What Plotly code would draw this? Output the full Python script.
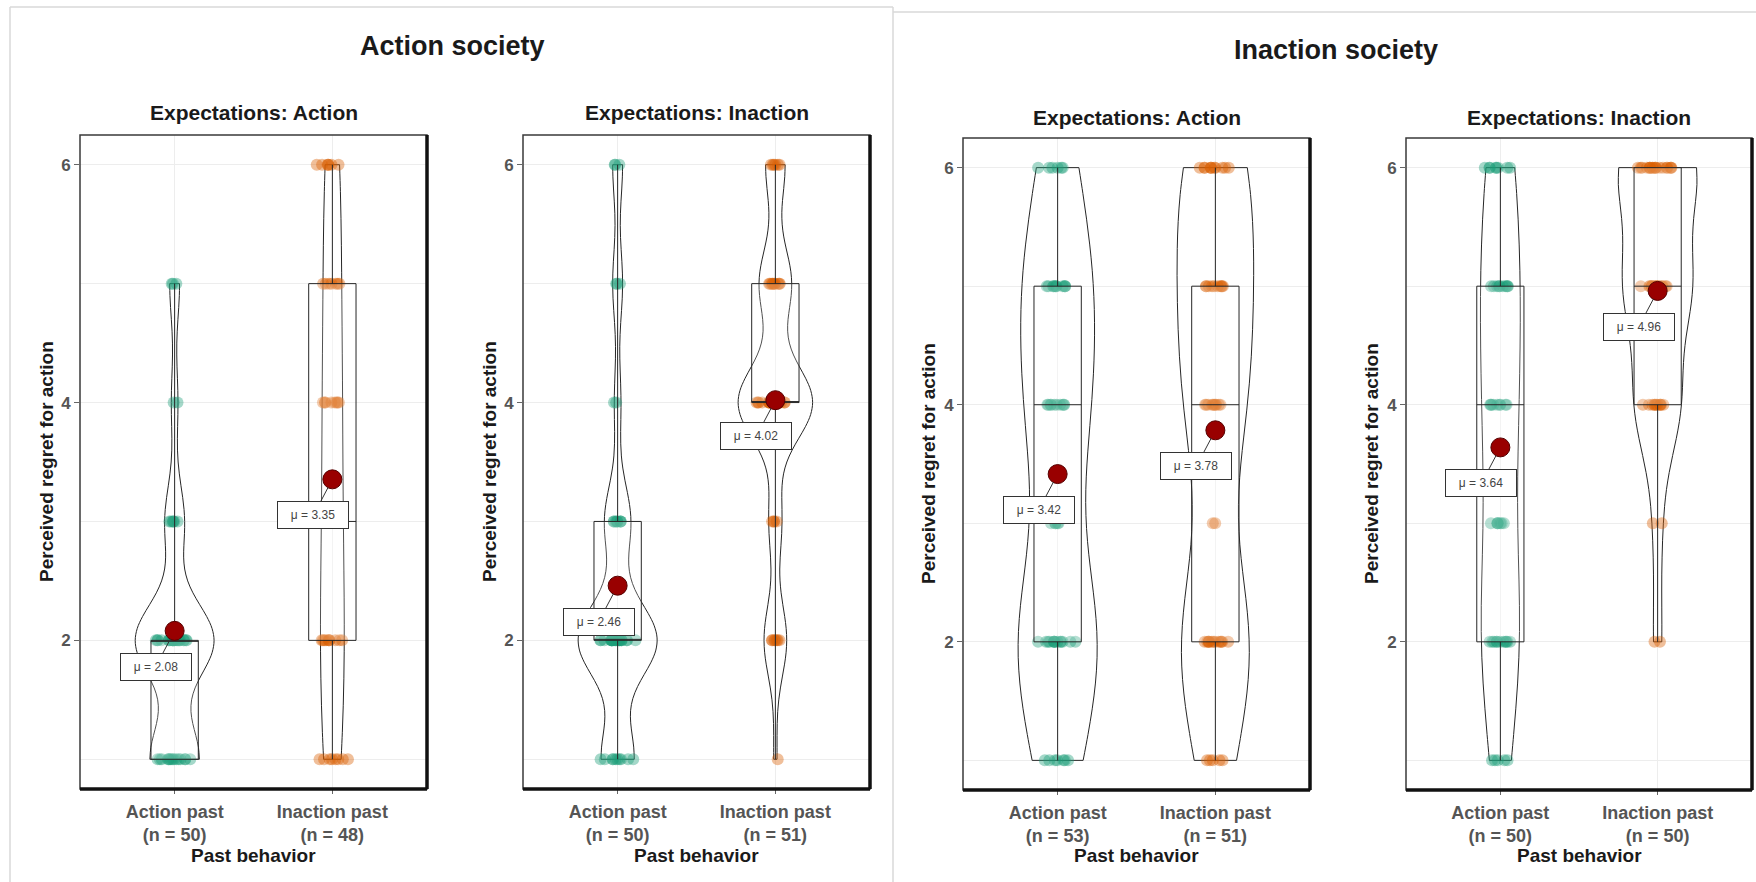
import numpy as np
import plotly.graph_objects as go

W, H = 1756, 882
FONT = "Liberation Sans, Arial, sans-serif"

# ---------------------------------------------------------------- data
scores = [1, 2, 3, 4, 5, 6]
past_behavior = ["Action past", "Inaction past"]
group_colors = ["#1B9E77", "#D95F02"]

society_titles = ["Action society", "Inaction society"]
expectation_titles = ["Expectations: Action", "Expectations: Inaction"]

# number of respondents giving each regret score (1..6)
action_soc_exp_action_action_past = [15, 24, 6, 2, 3, 0]
action_soc_exp_action_inaction_past = [8, 10, 8, 8, 7, 7]
action_soc_exp_inaction_action_past = [10, 24, 8, 2, 3, 3]
action_soc_exp_inaction_inaction_past = [1, 7, 4, 23, 10, 6]
inaction_soc_exp_action_action_past = [7, 14, 5, 10, 11, 6]
inaction_soc_exp_action_inaction_past = [5, 13, 2, 10, 10, 11]
inaction_soc_exp_inaction_action_past = [5, 11, 7, 9, 10, 8]
inaction_soc_exp_inaction_inaction_past = [0, 2, 2, 11, 16, 19]

panels = [
    (expectation_titles[0], [action_soc_exp_action_action_past, action_soc_exp_action_inaction_past]),
    (expectation_titles[1], [action_soc_exp_inaction_action_past, action_soc_exp_inaction_inaction_past]),
    (expectation_titles[0], [inaction_soc_exp_action_action_past, inaction_soc_exp_action_inaction_past]),
    (expectation_titles[1], [inaction_soc_exp_inaction_action_past, inaction_soc_exp_inaction_inaction_past]),
]

# ---------------------------------------------------------------- layout geometry (pixels)
panel_px = [
    dict(x0=80, x1=427, y0=135, y1=789, title_y=113),
    dict(x0=523, x1=870, y0=135, y1=789, title_y=113),
    dict(x0=963, x1=1310, y0=138, y1=790, title_y=117),
    dict(x0=1406, x1=1752, y0=138, y1=790, title_y=117),
]


def px_x(p):
    return p / W


def px_y(p):
    return 1 - p / H


def bw_nrd0(v):
    v = np.asarray(v, float)
    sd = v.std(ddof=1)
    q75, q25 = np.percentile(v, [75, 25])
    lo = min(sd, (q75 - q25) / 1.34)
    if lo <= 0:
        lo = sd if sd > 0 else 1.0
    return 0.9 * lo * len(v) ** -0.2


fig = go.Figure()
annotations = []
shapes = []
layout_axes = {}

for k, ((exp_title, groups), geo) in enumerate(zip(panels, panel_px), start=1):
    xa = "x" if k == 1 else f"x{k}"
    ya = "y" if k == 1 else f"y{k}"
    labels = []
    samples = []
    for j, counts in enumerate(groups):
        values = np.repeat(scores, counts)
        samples.append(values)
        labels.append(f"{past_behavior[j]}<br>(n = {len(values)})")

    # jittered raw responses
    for j, values in enumerate(samples):
        fig.add_trace(go.Box(
            x=[labels[j]] * len(values), y=values, xaxis=xa, yaxis=ya,
            boxpoints="all", jitter=0.85, pointpos=0, width=0.3,
            line=dict(width=0, color="rgba(0,0,0,0)"), fillcolor="rgba(0,0,0,0)",
            marker=dict(color=group_colors[j], size=12, opacity=0.4),
            hoverinfo="skip", showlegend=False,
        ))
    # box plots
    for j, values in enumerate(samples):
        fig.add_trace(go.Box(
            x=[labels[j]] * len(values), y=values, xaxis=xa, yaxis=ya,
            boxpoints=False, width=0.3, whiskerwidth=0,
            line=dict(width=1, color="#262626"), fillcolor="rgba(255,255,255,0.2)",
            hoverinfo="skip", showlegend=False,
        ))
    # violins, area-scaled within the panel
    for j, values in enumerate(samples):
        fig.add_trace(go.Violin(
            x=[labels[j]] * len(values), y=values, xaxis=xa, yaxis=ya,
            points=False, spanmode="hard", bandwidth=bw_nrd0(values),
            scalegroup=f"panel{k}", scalemode="width",
            line=dict(width=1, color="#262626"), fillcolor="rgba(255,255,255,0.2)",
            hoverinfo="skip", showlegend=False,
        ))
    # group means with labels
    for j, values in enumerate(samples):
        m = float(np.mean(values))
        fig.add_trace(go.Scatter(
            x=[labels[j]], y=[m], xaxis=xa, yaxis=ya, mode="markers",
            marker=dict(size=19, color="#990000", line=dict(color="#560000", width=1)),
            hoverinfo="skip", showlegend=False,
        ))
        annotations.append(dict(
            x=labels[j], y=m, xref=xa, yref=ya, text=f"μ = {m:.2f}",
            showarrow=True, arrowhead=0, arrowwidth=1, arrowcolor="#333333",
            ax=-19, ay=36, standoff=9,
            bgcolor="white", bordercolor="#333333", borderwidth=1, borderpad=4,
            width=62, height=18,
            font=dict(family=FONT, size=12, color="#444444"),
        ))

    x_dom = [px_x(geo["x0"]), px_x(geo["x1"])]
    y_dom = [px_y(geo["y1"]), px_y(geo["y0"])]
    xkey = "xaxis" if k == 1 else f"xaxis{k}"
    ykey = "yaxis" if k == 1 else f"yaxis{k}"
    layout_axes[xkey] = dict(
        domain=x_dom, anchor=ya, type="category",
        categoryorder="array", categoryarray=labels, range=[-0.6, 1.6],
        showgrid=True, gridcolor="#EDEDED", gridwidth=1, zeroline=False, showline=False,
        ticks="outside", ticklen=4, tickcolor="#666666", ticklabelstandoff=2,
        tickfont=dict(family=FONT, size=18, color="#555555", weight="bold"),
        fixedrange=True,
    )
    layout_axes[ykey] = dict(
        domain=y_dom, anchor=xa, range=[0.75, 6.25], tickvals=[2, 4, 6],
        showgrid=True, gridcolor="#EDEDED", gridwidth=1, zeroline=False, showline=False,
        minor=dict(tickvals=[1, 3, 5], showgrid=True, gridcolor="#EDEDED", ticks=""),
        ticks="outside", ticklen=5, tickcolor="#666666",
        tickfont=dict(family=FONT, size=17, color="#555555", weight="bold"),
        fixedrange=True,
    )

    # panel frame: thin top/left, heavy bottom/right
    xd, yd = f"{xa} domain", f"{ya} domain"
    shapes.append(dict(type="rect", xref=xd, yref=yd, x0=0, x1=1, y0=0, y1=1,
                       line=dict(color="#3a3a3a", width=1.5)))
    shapes.append(dict(type="line", xref=xd, yref=yd, x0=1, x1=1, y0=0, y1=1,
                       line=dict(color="#111111", width=3.5)))
    shapes.append(dict(type="line", xref=xd, yref=yd, x0=0, x1=1, y0=0, y1=0,
                       line=dict(color="#111111", width=3.5)))

    cx = px_x((geo["x0"] + geo["x1"]) / 2)
    # facet title
    annotations.append(dict(
        x=cx, y=px_y(geo["title_y"]), xref="paper", yref="paper", showarrow=False,
        text=exp_title, xanchor="center", yanchor="middle",
        font=dict(family=FONT, size=21, color="#1a1a1a", weight="bold"),
    ))
    # axis titles
    annotations.append(dict(
        x=cx, y=px_y(855), xref="paper", yref="paper", showarrow=False,
        text="Past behavior", xanchor="center", yanchor="middle",
        font=dict(family=FONT, size=19, color="#1a1a1a", weight="bold"),
    ))
    annotations.append(dict(
        x=px_x(geo["x0"] - 34), y=px_y((geo["y0"] + geo["y1"]) / 2),
        xref="paper", yref="paper", showarrow=False, textangle=-90,
        text="Perceived regret for action", xanchor="center", yanchor="middle",
        font=dict(family=FONT, size=19, color="#1a1a1a", weight="bold"),
    ))

# society headings
for title, (cx, cy) in zip(society_titles, [(452, 46), (1336, 50)]):
    annotations.append(dict(
        x=px_x(cx), y=px_y(cy), xref="paper", yref="paper", showarrow=False,
        text=title, xanchor="center", yanchor="middle",
        font=dict(family=FONT, size=27, color="#1a1a1a", weight="bold"),
    ))

# frames around the two figure halves
for (x0, y0, x1, y1) in [(10, 7, 893, 7), (10, 7, 10, 882), (893, 7, 893, 882), (893, 12, 1756, 12)]:
    shapes.append(dict(type="line", xref="paper", yref="paper",
                       x0=px_x(x0), x1=px_x(x1), y0=px_y(y0), y1=px_y(y1),
                       line=dict(color="#D9D9D9", width=1.5)))

fig.update_layout(
    width=W, height=H, margin=dict(l=0, r=0, t=0, b=0),
    paper_bgcolor="white", plot_bgcolor="white",
    boxmode="overlay", violinmode="overlay", violingap=0.5, violingroupgap=0,
    showlegend=False, annotations=annotations, shapes=shapes,
    font=dict(family=FONT),
    **layout_axes,
)

fig.write_html("out.html")
